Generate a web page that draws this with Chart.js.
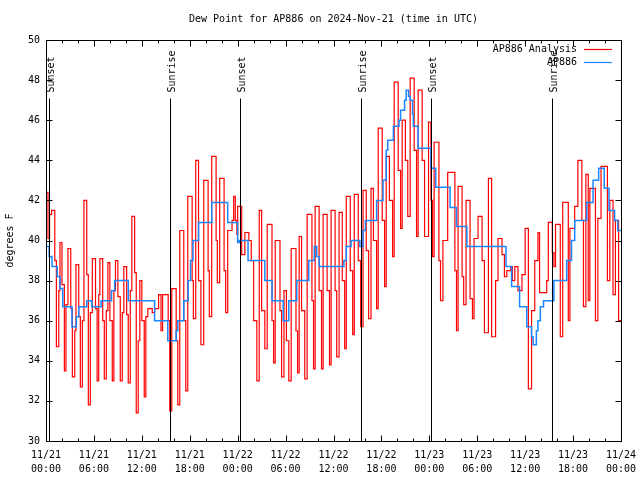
<!DOCTYPE html>
<html>
<head>
<meta charset="utf-8">
<script src="https://cdn.jsdelivr.net/npm/chart.js@4/dist/chart.umd.min.js"></script>
<style>
  body { margin: 0; background: #fff; }
  #c { display: block; }
</style>
</head>
<body>
<canvas id="c" width="640" height="480"></canvas>
<script>
// hours since 11/21 00:00 UTC
const redHours = [0.0,0.25,0.45,0.7,1.1,1.3,1.6,1.75,2.0,2.3,2.5,2.75,3.1,3.3,3.6,3.75,4.1,4.3,4.55,4.75,5.1,5.3,5.55,5.8,6.2,6.4,6.6,6.75,7.1,7.3,7.55,7.75,8.0,8.3,8.5,8.7,9.0,9.3,9.55,9.75,10.1,10.3,10.55,10.75,11.1,11.3,11.55,11.75,12.0,12.3,12.5,12.75,13.3,13.6,14.1,14.4,14.6,15.3,15.5,15.75,16.3,16.5,16.75,17.25,17.5,17.75,18.3,18.45,18.75,19.1,19.4,19.75,20.3,20.45,20.75,21.3,21.45,21.75,22.3,22.5,22.75,23.3,23.5,23.7,23.9,24.0,24.5,24.9,25.4,25.7,26.0,26.4,26.7,27.0,27.4,27.7,28.3,28.5,28.7,29.3,29.5,29.8,30.1,30.4,30.7,31.3,31.5,31.7,32.0,32.4,32.7,33.3,33.5,33.7,34.2,34.5,34.7,35.2,35.5,35.7,36.2,36.4,36.7,37.1,37.4,37.6,38.1,38.4,38.6,39.1,39.4,39.7,40.1,40.4,40.7,41.0,41.4,41.6,42.1,42.4,42.6,43.0,43.4,43.6,44.1,44.4,44.6,45.0,45.3,45.6,46.1,46.4,46.6,47.1,47.4,47.9,48.2,48.4,48.6,49.2,49.4,49.7,50.3,51.2,51.4,51.6,52.1,52.3,52.6,53.1,53.4,53.6,54.1,54.6,54.9,55.4,55.8,56.3,56.6,57.1,57.4,57.7,58.2,58.4,58.7,59.1,59.6,60.0,60.4,60.8,61.2,61.6,61.8,62.7,62.9,63.4,63.6,63.8,64.4,64.7,65.4,65.6,66.2,66.6,67.1,67.3,67.6,67.9,68.1,68.8,69.1,69.5,70.3,70.6,71.0,71.3,71.7,72.0];
const redDew = [42.4,40.1,41.3,41.5,39.0,34.7,37.5,39.9,37.8,33.5,36.8,39.6,36.6,33.2,35.5,38.8,36.2,32.7,36.0,42.0,38.3,31.8,36.4,39.1,36.6,33.0,37.3,39.1,36.0,33.1,36.5,38.9,36.0,33.0,37.5,39.0,37.2,33.0,36.4,38.7,36.3,32.9,37.5,41.2,38.4,31.4,35.0,38.0,36.0,32.2,36.2,36.6,36.4,36.6,37.3,35.5,37.3,36.0,31.5,37.6,35.0,31.8,40.5,36.0,32.5,42.2,38.0,36.1,44.0,38.0,34.8,43.0,38.5,36.2,44.2,40.0,37.9,43.1,38.5,36.4,40.5,41.0,42.2,41.0,40.3,41.7,39.3,40.4,40.0,39.0,36.0,33.0,41.5,36.5,34.6,40.8,36.0,33.9,40.0,36.5,33.2,37.5,35.0,33.0,39.6,35.5,33.4,40.2,36.5,33.1,41.3,37.0,33.6,41.7,37.5,33.6,41.3,37.5,33.8,41.5,37.5,34.2,41.4,38.0,34.6,42.2,38.5,35.3,42.3,39.0,35.7,42.5,39.5,36.1,42.6,40.0,36.6,45.6,41.0,37.7,44.2,42.0,39.2,47.9,43.5,40.6,46.0,44.0,41.2,48.1,44.5,40.2,47.5,44.0,40.2,45.9,42.0,39.2,44.9,39.0,37.0,40.0,43.4,38.5,35.5,42.7,38.2,36.8,42.0,37.1,36.1,40.1,41.2,39.0,35.4,43.1,35.2,38.0,40.1,39.3,38.2,38.5,38.7,38.0,38.7,37.5,38.3,40.6,32.6,36.5,39.0,40.4,37.4,38.0,40.9,39.4,38.7,40.8,35.2,41.9,36.0,40.6,41.7,44.0,41.0,36.7,43.3,37.0,42.6,36.0,41.1,43.7,38.0,42.0,37.3,41.0,36.0,36.0];

const blueHours = [0,0.4,0.75,1.4,1.75,2.1,3.25,3.8,4.1,5.1,5.75,6.9,8.2,8.6,10.3,13.6,15.25,16.3,16.5,17.25,17.8,18.1,18.4,19.1,20.75,22.75,24.0,24.2,25.3,27.4,28.3,29.7,30.4,31.4,32.9,33.6,33.9,34.2,37.3,37.6,38.2,39.3,39.7,40.0,41.4,42.2,42.6,42.8,43.5,44.2,44.4,44.9,45.1,45.4,45.6,45.9,46.0,46.6,48.2,48.8,50.6,51.4,52.7,57.6,58.3,59.3,60.2,60.8,61.0,61.4,61.6,61.9,62.3,63.6,65.2,65.8,66.2,67.7,68.5,69.2,69.9,70.5,71.2,71.6,72];
const blueDew = [39.7,39.2,38.7,38.2,37.6,36.7,35.7,36.2,36.7,37.0,36.7,37.0,37.5,38.0,37.0,36.0,35.0,35.5,36.0,37.0,38.0,39.0,40.0,40.9,41.9,40.9,39.9,40.0,39.0,38.0,37.0,36.0,37.0,38.0,39.0,39.7,39.2,38.7,39.0,39.7,40.0,39.7,40.5,41.0,42.0,43.0,44.5,45.0,45.7,46.0,46.5,47.0,47.5,47.2,47.0,46.3,45.7,44.6,43.6,42.65,41.65,40.7,39.7,38.7,37.7,36.7,35.7,35.2,34.8,35.5,36.0,36.7,37.0,38.0,39.0,40.0,41.0,41.9,43.0,43.6,42.6,41.5,41.0,40.5,40.5];

const seriesLabels = ['AP886 Analysis', 'AP886'];
const seriesColors = ['#ff0000', '#1a86ff'];

const sunHours = [0.33, 15.54, 24.35, 39.45, 48.2, 63.4];
const sunLabels = ['Sunset', 'Sunrise', 'Sunset', 'Sunrise', 'Sunset', 'Sunrise'];
const sunLineTop = 47.1;

const xTickHours = [0, 6, 12, 18, 24, 30, 36, 42, 48, 54, 60, 66, 72];
const xTickLabels = [
  ['11/21', '00:00'], ['11/21', '06:00'], ['11/21', '12:00'], ['11/21', '18:00'],
  ['11/22', '00:00'], ['11/22', '06:00'], ['11/22', '12:00'], ['11/22', '18:00'],
  ['11/23', '00:00'], ['11/23', '06:00'], ['11/23', '12:00'], ['11/23', '18:00'],
  ['11/24', '00:00']
];
const xMinorStep = 2;

const FONT = '"DejaVu Sans Mono", monospace';

const gnuplotFrame = {
  id: 'gnuplotFrame',
  afterDatasetsDraw(chart) {
    const { ctx, chartArea: a, scales: { x, y } } = chart;
    ctx.save();
    ctx.strokeStyle = '#000';
    ctx.lineWidth = 1;

    // sunrise / sunset markers
    const yTop = Math.round(y.getPixelForValue(sunLineTop)) + 0.5;
    sunHours.forEach((h, i) => {
      const px = Math.round(x.getPixelForValue(h)) + 0.5;
      ctx.beginPath();
      ctx.moveTo(px, a.bottom);
      ctx.lineTo(px, yTop);
      ctx.stroke();
      ctx.save();
      ctx.translate(px + 1.5, yTop - 6);
      ctx.rotate(-Math.PI / 2);
      ctx.font = '10px ' + FONT;
      ctx.fillStyle = '#000';
      ctx.textAlign = 'left';
      ctx.textBaseline = 'middle';
      ctx.fillText(sunLabels[i], 0, 0);
      ctx.restore();
    });

    // border
    const L = Math.round(a.left) + 0.5, R = Math.round(a.right) + 0.5;
    const T = Math.round(a.top) + 0.5, B = Math.round(a.bottom) + 0.5;
    ctx.strokeRect(L, T, R - L, B - T);

    // inward ticks, mirrored
    ctx.beginPath();
    for (let v = y.min; v <= y.max; v += 2) {
      const py = Math.round(y.getPixelForValue(v)) + 0.5;
      ctx.moveTo(L, py); ctx.lineTo(L + 6, py);
      ctx.moveTo(R, py); ctx.lineTo(R - 6, py);
    }
    for (let h = x.min; h <= x.max; h += xMinorStep) {
      const px = Math.round(x.getPixelForValue(h)) + 0.5;
      const len = xTickHours.includes(h) ? 6 : 3;
      ctx.moveTo(px, B); ctx.lineTo(px, B - len);
      ctx.moveTo(px, T); ctx.lineTo(px, T + len);
    }
    ctx.stroke();

    // title
    ctx.font = '10px ' + FONT;
    ctx.fillStyle = '#000';
    ctx.textAlign = 'center';
    ctx.textBaseline = 'middle';
    ctx.fillText('Dew Point for AP886 on 2024-Nov-21 (time in UTC)', (a.left + a.right) / 2, 19);

    // legend
    ctx.textAlign = 'right';
    seriesLabels.forEach((lab, i) => {
      const ly = 49 + i * 13;
      ctx.fillStyle = '#000';
      ctx.fillText(lab, 577, ly);
      ctx.strokeStyle = seriesColors[i];
      ctx.lineWidth = 1.2;
      ctx.beginPath();
      ctx.moveTo(584, ly + 0.5);
      ctx.lineTo(612, ly + 0.5);
      ctx.stroke();
    });
    ctx.restore();
  }
};

new Chart(document.getElementById('c'), {
  type: 'line',
  data: {
    datasets: [
      {
        label: seriesLabels[0],
        data: redHours.map((h, i) => ({ x: h, y: redDew[i] })),
        borderColor: seriesColors[0],
        borderWidth: 1.2,
        stepped: true,
        pointRadius: 0,
        fill: false,
        order: 2
      },
      {
        label: seriesLabels[1],
        data: blueHours.map((h, i) => ({ x: h, y: blueDew[i] })),
        borderColor: seriesColors[1],
        borderWidth: 1.5,
        stepped: true,
        pointRadius: 0,
        fill: false,
        order: 1
      }
    ]
  },
  options: {
    responsive: false,
    animation: false,
    devicePixelRatio: 1,
    layout: { padding: { top: 40, right: 19, left: 0, bottom: 0 } },
    plugins: { legend: { display: false }, title: { display: false }, tooltip: { enabled: false } },
    scales: {
      x: {
        type: 'linear',
        min: 0,
        max: 72,
        afterBuildTicks: s => { s.ticks = xTickHours.map(v => ({ value: v })); },
        afterFit: s => { s.height = 39; s.paddingLeft = 0; s.paddingRight = 0; },
        ticks: {
          autoSkip: false,
          maxRotation: 0,
          padding: 8,
          color: '#000',
          font: { family: FONT, size: 10, lineHeight: 1.33 },
          callback: (v, i) => xTickLabels[i]
        },
        grid: { display: false, drawTicks: false },
        border: { display: false }
      },
      y: {
        min: 30,
        max: 50,
        afterFit: s => { s.width = 46; s.paddingTop = 0; s.paddingBottom = 0; },
        ticks: { stepSize: 2, padding: 6, color: '#000', font: { family: FONT, size: 10 } },
        title: { display: true, text: 'degrees F', color: '#000', padding: { top: 4, bottom: 0 }, font: { family: FONT, size: 10 } },
        grid: { display: false, drawTicks: false },
        border: { display: false }
      }
    }
  },
  plugins: [gnuplotFrame]
});
</script>
</body>
</html>
